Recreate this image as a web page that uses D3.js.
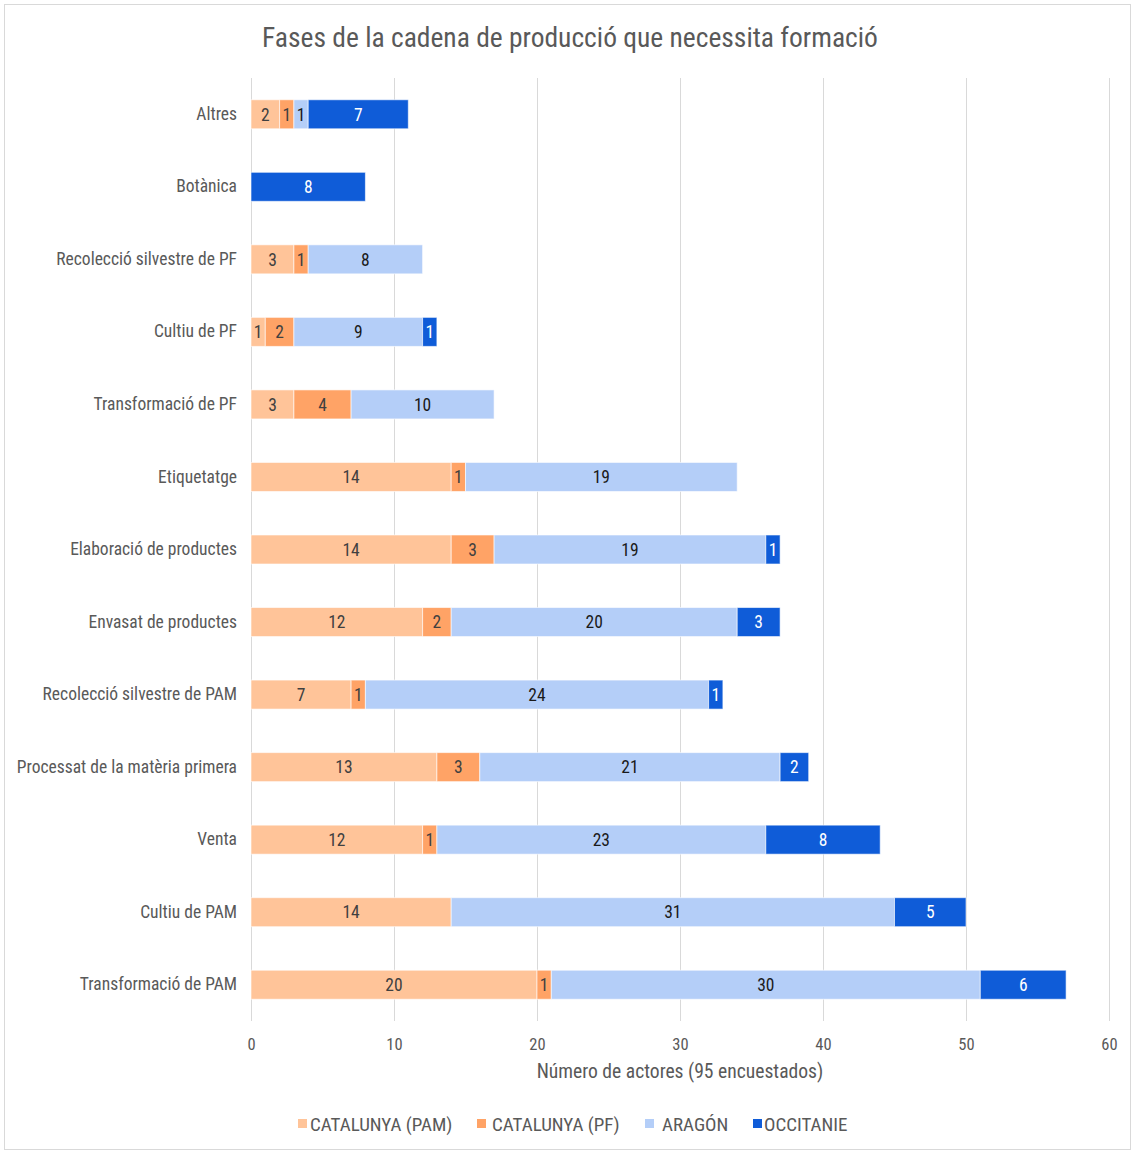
<!DOCTYPE html>
<html><head><meta charset="utf-8">
<script src="https://cdn.jsdelivr.net/npm/d3@7"></script>
<style>
html,body{margin:0;padding:0;background:#fff;}
text{font-family:"Roboto Condensed","Liberation Sans Narrow",sans-serif;}
</style></head>
<body>
<svg id="c" width="1132" height="1151"></svg>
<script>
const categories = ["Altres","Botànica","Recolecció silvestre de PF","Cultiu de PF","Transformació de PF","Etiquetatge","Elaboració de productes","Envasat de productes","Recolecció silvestre de PAM","Processat de la matèria primera","Venta","Cultiu de PAM","Transformació de PAM"];
const seriesNames = ["CATALUNYA (PAM)","CATALUNYA (PF)","ARAGÓN","OCCITANIE"];
const catalunyaPAM = [2,0,3,1,3,14,14,12,7,13,12,14,20];
const catalunyaPF  = [1,0,1,2,4,1,3,2,1,3,1,0,1];
const aragon       = [1,0,8,9,10,19,19,20,24,21,23,31,30];
const occitanie    = [7,8,0,1,0,0,1,3,1,2,8,5,6];
const xTicks = [0,10,20,30,40,50,60];
const title = "Fases de la cadena de producció que necessita formació";
const xTitle = "Número de actores (95 encuestados)";

const colors = ["#FFC499","#FFA366","#B4CEF8","#0F5CD8"];
const labelColors = ["#404040","#404040","#1a1a1a","#ffffff"];

const svg = d3.select("#c");
const W = 1132, H = 1151;
const m = {left:251, right:1109, top:78, bottom:1021};

svg.append("rect").attr("x",4.5).attr("y",4.5).attr("width",W-6).attr("height",H-6)
  .attr("fill","#fff").attr("stroke","#d9d9d9").attr("stroke-width",1);

svg.append("text").attr("x",570).attr("y",47).attr("text-anchor","middle")
  .attr("font-size",27.5).attr("fill","#595959").text(title);

const x = d3.scaleLinear().domain([0,60]).range([m.left,m.right]);
const y = d3.scaleBand().domain(categories).range([m.top,m.bottom]).paddingInner(0.6).paddingOuter(0.3);

// grid
svg.append("g").selectAll("line").data(xTicks).join("line")
  .attr("x1",d=>Math.round(x(d))+0.5).attr("x2",d=>Math.round(x(d))+0.5)
  .attr("y1",m.top).attr("y2",m.bottom)
  .attr("stroke","#d9d9d9").attr("stroke-width",1);

// x axis labels
const xAxis = d3.axisBottom(x).tickValues(xTicks).tickSize(0).tickPadding(0);
const gx = svg.append("g").attr("transform",`translate(0,${1050})`).call(xAxis);
gx.select(".domain").remove();
gx.selectAll("text").attr("font-size",16.5).attr("fill","#595959").attr("dy",0);

svg.append("text").attr("x",680).attr("y",1078).attr("text-anchor","middle")
  .attr("font-size",19.6).attr("fill","#595959").text(xTitle);

// y labels
const yAxis = d3.axisLeft(y).tickSize(0).tickPadding(14);
const gy = svg.append("g").attr("transform",`translate(${m.left},0)`).call(yAxis);
gy.select(".domain").remove();
gy.selectAll("text").attr("font-size",17.5).attr("fill","#595959");

const table = categories.map((c,i)=>({cat:c, vals:[catalunyaPAM[i],catalunyaPF[i],aragon[i],occitanie[i]]}));
const stack = d3.stack().keys([0,1,2,3]).value((d,k)=>d.vals[k]);
const stacked = stack(table);

const gBars = svg.append("g");
stacked.forEach((layer,k)=>{
  const g = gBars.append("g");
  layer.forEach((seg,i)=>{
    const v = seg[1]-seg[0];
    if(v<=0) return;
    const cat = categories[i];
    g.append("rect").attr("x",x(seg[0])).attr("y",y(cat))
      .attr("width",x(seg[1])-x(seg[0])).attr("height",y.bandwidth())
      .attr("fill",colors[k]).attr("stroke","#fff").attr("stroke-opacity",0.6).attr("stroke-width",1);
    g.append("text").attr("x",(x(seg[0])+x(seg[1]))/2).attr("y",y(cat)+y.bandwidth()/2)
      .attr("dy","0.36em").attr("text-anchor","middle").attr("font-size",17.5)
      .attr("fill",labelColors[k]).text(v);
  });
});

// legend
const legX = [298,477,645,753];
const legTX = [310,492,662,764];
const legend = svg.append("g");
seriesNames.forEach((s,k)=>{
  legend.append("rect").attr("x",legX[k]).attr("y",1119).attr("width",9).attr("height",9).attr("fill",colors[k]);
  legend.append("text").attr("x",legTX[k]).attr("y",1124).attr("dy","0.36em")
    .attr("font-size",19).attr("fill","#595959").text(s);
});
</script>
</body></html>
